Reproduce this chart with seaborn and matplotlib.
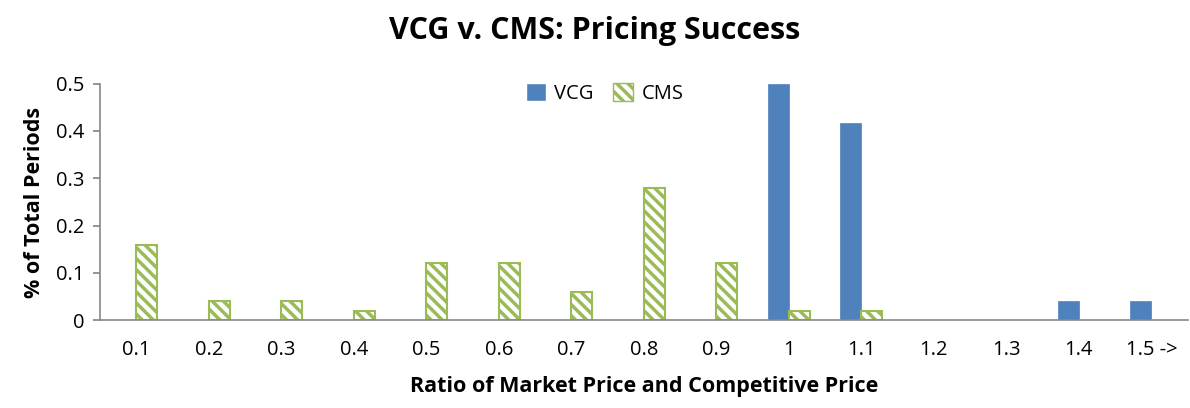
import numpy as np
import pandas as pd
import matplotlib.pyplot as plt
import seaborn as sns

# data
ratios = ["0.1", "0.2", "0.3", "0.4", "0.5", "0.6", "0.7", "0.8",
          "0.9", "1", "1.1", "1.2", "1.3", "1.4", "1.5 ->"]
vcg = [0, 0, 0, 0, 0, 0, 0, 0, 0, 0.5, 0.417, 0, 0, 0.04, 0.04]
cms = [0.16, 0.04, 0.04, 0.02, 0.12, 0.12, 0.06, 0.28, 0.12, 0.02, 0.02, 0, 0, 0, 0]

df = pd.DataFrame({
    "ratio": ratios * 2,
    "share": vcg + cms,
    "mech": ["VCG"] * len(ratios) + ["CMS"] * len(ratios),
})

sns.set_theme(style="white")
plt.rcParams["font.family"] = ["Open Sans", "DejaVu Sans"]
plt.rcParams["hatch.linewidth"] = 2.5
plt.rcParams["text.color"] = "black"
plt.rcParams["axes.labelcolor"] = "black"
plt.rcParams["xtick.color"] = "black"
plt.rcParams["ytick.color"] = "black"

blue = "#4F81BD"
green = "#9BBB59"

fig, ax = plt.subplots(figsize=(11.9, 4.08), dpi=100)
sns.barplot(data=df, x="ratio", y="share", hue="mech", order=ratios,
            hue_order=["VCG", "CMS"], palette=[blue, "white"],
            width=0.58, ax=ax, saturation=1, gap=0)

# style the CMS bars with green diagonal hatching
for bar in ax.containers[1]:
    bar.set_edgecolor(green)
    bar.set_hatch("\\\\\\")
    bar.set_linewidth(1.5 if bar.get_height() > 0 else 0)
for bar in ax.containers[0]:
    bar.set_edgecolor(blue)
    bar.set_linewidth(0.5 if bar.get_height() > 0 else 0)

ax.set_ylim(0, 0.5)
ax.set_yticks([0, 0.1, 0.2, 0.3, 0.4, 0.5])
ax.set_yticklabels(["0", "0.1", "0.2", "0.3", "0.4", "0.5"])
ax.tick_params(axis="y", length=5, color="#888888", labelcolor="black", labelsize=14.5,
               pad=6, direction="out", left=True)
ax.tick_params(axis="x", length=0, labelsize=14.5, labelcolor="black", pad=14)
for s in ["top", "right"]:
    ax.spines[s].set_visible(False)
for s in ["left", "bottom"]:
    ax.spines[s].set_color("#888888")
    ax.spines[s].set_linewidth(1.2)

fig.suptitle("VCG v. CMS: Pricing Success", fontsize=22, fontweight="bold", x=0.5, y=0.96)
ax.set_xlabel("Ratio of Market Price and Competitive Price", fontsize=15.5, fontweight="bold", labelpad=12)
ax.set_ylabel("% of Total Periods", fontsize=15.5, fontweight="bold", labelpad=8)

handles, labels = ax.get_legend_handles_labels()
handles[1].set_edgecolor(green)
handles[1].set_hatch("\\\\\\")
fig.legend(handles, labels, loc="upper center", bbox_to_anchor=(0.508, 0.84), ncol=2,
           frameon=False, fontsize=14.5, handlelength=1.0, handleheight=1.0,
           columnspacing=1.0, handletextpad=0.4)
ax.get_legend().remove()

fig.subplots_adjust(left=0.084, right=0.998, top=0.795, bottom=0.215)
fig.savefig("out.png", dpi=100)
